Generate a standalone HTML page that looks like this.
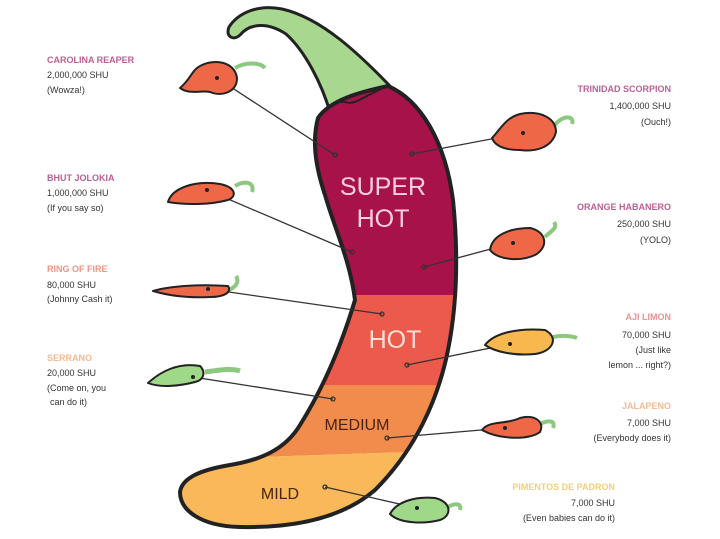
<!DOCTYPE html>
<html><head><meta charset="utf-8"><style>
body{margin:0;background:#fff}
svg{display:block}
text{font-family:"Liberation Sans",sans-serif}
.t{font-size:9px;font-weight:bold;opacity:.85}
.s{font-size:9px;fill:#333}
</style></head><body>
<svg width="720" height="539" viewBox="0 0 720 539" xmlns="http://www.w3.org/2000/svg">
<defs>
<clipPath id="body"><path id="bp" d="M318,118 C330,100 360,92 388,86 C420,100 445,140 453,200 C458,250 458,300 448,350 C438,400 415,450 375,490 C340,520 290,528 240,527 C200,526 180,510 180,492 C182,478 200,470 230,465 C260,460 285,450 300,425 C322,390 340,350 355,300 C350,260 335,230 325,195 C315,165 312,140 318,118 Z"/></clipPath>
</defs>
<!-- stem -->
<path d="M390,86 C360,55 322,18 282,9 C258,4 238,13 229,27 C225,37 234,41 240,35 C250,23 268,22 286,34 C306,52 322,85 330,112 C345,105 365,95 390,86 Z" fill="#a8d890" stroke="#222" stroke-width="3" stroke-linejoin="round"/>
<g clip-path="url(#body)">
<rect x="170" y="80" width="300" height="215" fill="#a8124a"/>
<rect x="170" y="295" width="300" height="90" fill="#ec5a4c"/>
<polygon points="170,385 470,385 470,450 170,460" fill="#f28c4c"/>
<polygon points="170,460 470,450 470,540 170,540" fill="#f9b95a"/>
</g>
<path d="M318,118 C325,108 335,100 345,102 C355,106 365,95 388,86" fill="none" stroke="#222" stroke-width="2"/>
<use href="#bp" fill="none" stroke="#222" stroke-width="4"/>
<text x="383" y="195" font-size="25" fill="#fbd0e0" text-anchor="middle">SUPER</text>
<text x="383" y="227" font-size="25" fill="#fbd0e0" text-anchor="middle">HOT</text>
<text x="395" y="348" font-size="25" fill="#fde0d8" text-anchor="middle">HOT</text>
<text x="357" y="430" font-size="16" fill="#4a2410" text-anchor="middle">MEDIUM</text>
<text x="280" y="499" font-size="16" fill="#4a2410" text-anchor="middle">MILD</text>
<!-- lines -->
<g stroke="#333" stroke-width="1.3" fill="none">
<line x1="217" y1="78" x2="335" y2="155"/>
<line x1="207" y1="190" x2="352" y2="252"/>
<line x1="208" y1="289" x2="382" y2="314"/>
<line x1="193" y1="377" x2="333" y2="399"/>
<line x1="523" y1="133" x2="412" y2="154"/>
<line x1="513" y1="243" x2="424" y2="267"/>
<line x1="510" y1="344" x2="407" y2="365"/>
<line x1="505" y1="428" x2="387" y2="438"/>
<line x1="417" y1="508" x2="325" y2="487"/>
</g>
<g fill="none" stroke="#333" stroke-width="1.3">
<circle cx="335" cy="155" r="2"/><circle cx="352" cy="252" r="2"/><circle cx="382" cy="314" r="2"/><circle cx="333" cy="399" r="2"/>
<circle cx="412" cy="154" r="2"/><circle cx="424" cy="267" r="2"/><circle cx="407" cy="365" r="2"/><circle cx="387" cy="438" r="2"/><circle cx="325" cy="487" r="2"/>
</g>
<!-- small peppers -->
<g stroke="#222" stroke-width="2" stroke-linejoin="round">
<path d="M235,68 C245,62 260,62 265,68" fill="none" stroke="#8cc880" stroke-width="4"/>
<path d="M180,88 C190,80 192,70 200,66 C215,58 235,62 237,78 C237,92 222,97 210,92 C200,90 190,95 180,88 Z" fill="#ee6848"/>
<path d="M235,186 C245,180 255,182 252,192" fill="none" stroke="#8cc880" stroke-width="4"/>
<path d="M168,202 C172,188 195,180 220,184 C235,187 238,196 228,200 C210,205 185,205 168,202 Z" fill="#ee6848"/>
<path d="M228,290 C235,288 240,282 236,276" fill="none" stroke="#8cc880" stroke-width="4"/>
<path d="M153,291 C170,286 200,284 228,286 C232,292 225,297 210,297 C190,298 170,296 153,291 Z" fill="#ee6848"/>
<path d="M205,372 C220,370 232,368 240,371" fill="none" stroke="#8cc880" stroke-width="5"/>
<path d="M148,383 C160,372 178,362 200,366 C206,372 204,380 195,382 C180,386 160,388 148,383 Z" fill="#9ed888"/>
<path d="M555,125 C562,115 575,115 572,124" fill="none" stroke="#8cc880" stroke-width="4"/>
<path d="M492,138 C500,130 505,118 520,114 C540,110 556,118 556,132 C552,148 535,152 520,150 C505,150 495,146 492,138 Z" fill="#ee6848"/>
<path d="M545,237 C552,230 558,228 554,222" fill="none" stroke="#8cc880" stroke-width="4"/>
<path d="M490,250 C492,235 510,228 530,228 C548,232 548,248 535,255 C520,262 498,260 490,250 Z" fill="#ee6848"/>
<path d="M553,337 C562,335 572,336 577,338" fill="none" stroke="#8cc880" stroke-width="4"/>
<path d="M485,345 C495,332 520,328 545,330 C560,338 552,352 535,354 C515,356 495,352 485,345 Z" fill="#f8b850"/>
<path d="M540,424 C548,420 556,420 553,428" fill="none" stroke="#8cc880" stroke-width="4"/>
<path d="M482,430 C490,420 505,425 520,418 C535,414 545,422 540,432 C530,440 500,440 482,430 Z" fill="#ee6848"/>
<path d="M448,507 C455,503 462,503 460,510" fill="none" stroke="#8cc880" stroke-width="4"/>
<path d="M390,514 C396,502 415,496 435,498 C452,502 452,516 440,520 C425,524 400,524 390,514 Z" fill="#9ed888"/>
</g>
<g fill="#222"><circle cx="217" cy="78" r="2"/><circle cx="207" cy="190" r="2"/><circle cx="208" cy="289" r="2"/><circle cx="193" cy="377" r="2"/><circle cx="523" cy="133" r="2"/><circle cx="513" cy="243" r="2"/><circle cx="510" cy="344" r="2"/><circle cx="505" cy="428" r="2"/><circle cx="417" cy="508" r="2"/></g>
<!-- left labels -->
<text class="t" x="47" y="63" fill="#b0457f">CAROLINA REAPER</text>
<text class="s" x="47" y="78">2,000,000 SHU</text>
<text class="s" x="47" y="93">(Wowza!)</text>
<text class="t" x="47" y="181" fill="#b0457f">BHUT JOLOKIA</text>
<text class="s" x="47" y="196">1,000,000 SHU</text>
<text class="s" x="47" y="211">(If you say so)</text>
<text class="t" x="47" y="272" fill="#e8836c">RING OF FIRE</text>
<text class="s" x="47" y="288">80,000 SHU</text>
<text class="s" x="47" y="302">(Johnny Cash it)</text>
<text class="t" x="47" y="361" fill="#f0b080">SERRANO</text>
<text class="s" x="47" y="376">20,000 SHU</text>
<text class="s" x="47" y="391">(Come on, you</text>
<text class="s" x="50" y="405">can do it)</text>
<!-- right labels -->
<g text-anchor="end">
<text class="t" x="671" y="92" fill="#b0457f">TRINIDAD SCORPION</text>
<text class="s" x="671" y="109">1,400,000 SHU</text>
<text class="s" x="671" y="125">(Ouch!)</text>
<text class="t" x="671" y="210" fill="#b0457f">ORANGE HABANERO</text>
<text class="s" x="671" y="227">250,000 SHU</text>
<text class="s" x="671" y="243">(YOLO)</text>
<text class="t" x="671" y="320" fill="#e88080">AJI LIMON</text>
<text class="s" x="671" y="338">70,000 SHU</text>
<text class="s" x="671" y="353">(Just like</text>
<text class="s" x="671" y="368">lemon ... right?)</text>
<text class="t" x="671" y="409" fill="#f0b080">JALAPENO</text>
<text class="s" x="671" y="426">7,000 SHU</text>
<text class="s" x="671" y="441">(Everybody does it)</text>
<text class="t" x="615" y="490" fill="#f0c860">PIMENTOS DE PADRON</text>
<text class="s" x="615" y="506">7,000 SHU</text>
<text class="s" x="615" y="521">(Even babies can do it)</text>
</g>
</svg>
</body></html>
